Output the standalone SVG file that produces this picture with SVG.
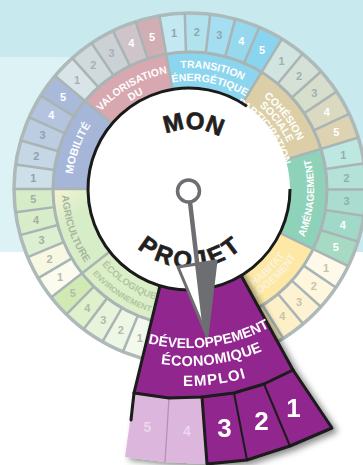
<svg xmlns="http://www.w3.org/2000/svg" width="363" height="465" viewBox="0 0 363 465">
<defs>
<style>
.b{fill:none;stroke-width:77}
.c{fill:none;stroke-width:39}
.sep{stroke:#a9b4b4;stroke-width:2.5}
.n{font-family:"Liberation Sans",Arial,sans-serif;font-weight:bold;font-size:11px;text-anchor:middle;dominant-baseline:central}
.w{fill:#fff}
.l{font-family:"Liberation Sans",Arial,sans-serif;font-weight:bold;font-size:10.5px;fill:#fff;text-anchor:middle}
.big{font-family:"Liberation Sans",Arial,sans-serif;font-weight:bold;fill:#231f20;stroke:#231f20;stroke-width:0.7;text-anchor:middle}
.pt{font-family:"Liberation Sans",Arial,sans-serif;font-weight:bold;fill:#fff;text-anchor:middle}
.blk{fill:none;stroke:#1a1a1a;stroke-linejoin:round;stroke-linecap:round}
</style>
<circle id="B" class="b" cx="190" cy="189" r="98.5" pathLength="360"/>
<circle id="C" class="c" cx="190" cy="189" r="156.5" pathLength="360"/>
<line id="ss" class="sep" x1="190" y1="89" x2="190" y2="13"/>
<line id="cs" class="sep" x1="190" y1="52" x2="190" y2="13"/>
<path id="t94" d="M123.53,122.53 A94,94 0 0 1 256.47,122.53"/>
<path id="t97" d="M121.41,120.41 A97,97 0 0 1 258.59,120.41"/>
<path id="t106" d="M115.05,114.05 A106,106 0 0 1 264.95,114.05"/>
<path id="t108" d="M113.63,112.63 A108,108 0 0 1 266.37,112.63"/>
<path id="t118" d="M106.56,105.56 A118,118 0 0 1 273.44,105.56"/>
<path id="t121" d="M104.44,103.44 A121,121 0 0 1 275.56,103.44"/>
<path id="b103" d="M117.17,261.83 A103,103 0 0 0 262.83,261.83"/>
<path id="b116" d="M107.98,271.02 A116,116 0 0 0 272.02,271.02"/>
<path id="b124" d="M102.32,276.68 A124,124 0 0 0 277.68,276.68"/>
<path id="b126" d="M100.90,278.10 A126,126 0 0 0 279.10,278.10"/>
<path id="b128" d="M99.49,279.51 A128,128 0 0 0 280.51,279.51"/>
<path id="b129" d="M98.78,280.22 A129,129 0 0 0 281.22,280.22"/>
<path id="mon" d="M137.17,159.5 A61,61 0 0 1 242.83,159.5"/>
<path id="proj" d="M116.7,216.68 A78,78 0 0 0 263.3,216.68"/>
<path id="d171" d="M102.5,325.09 A171,171 0 0 0 273.5,325.09"/>
<path id="d189" d="M93.5,340.68 A189,189 0 0 0 282.5,340.68"/>
<path id="d209" d="M83.5,358.0 A209,209 0 0 0 292.5,358.0"/>
<linearGradient id="agr" gradientUnits="userSpaceOnUse" x1="0" y1="240" x2="0" y2="278">
<stop offset="0" stop-color="#d7edc8"/><stop offset="1" stop-color="#fbf4d6"/>
</linearGradient>
<filter id="sh" x="-20%" y="-20%" width="150%" height="150%">
<feDropShadow dx="4" dy="3" stdDeviation="3" flood-color="#000" flood-opacity="0.45"/>
</filter>
</defs>

<g id="background">
<rect width="363" height="465" fill="#fff"/>
<rect width="363" height="252" fill="#c8eaee"/>
<rect y="57" width="185" height="195" fill="#ddf2f5"/>
</g>

<g id="wheel">
<g id="s-valorisation">
<use href="#B" stroke="#d7a8b0" stroke-dasharray="40.3 400" transform="rotate(220 190 189)"/>
<use href="#C" stroke="#d8e4e7" stroke-dasharray="8.3 400" transform="rotate(220 190 189)"/>
<use href="#C" stroke="#d0dadd" stroke-dasharray="8.3 400" transform="rotate(228 190 189)"/>
<use href="#C" stroke="#cbd1d5" stroke-dasharray="8.3 400" transform="rotate(236 190 189)"/>
<use href="#C" stroke="#cfc4c9" stroke-dasharray="8.3 400" transform="rotate(244 190 189)"/>
<use href="#C" stroke="#d1adb4" stroke-dasharray="8.3 400" transform="rotate(252 190 189)"/>
</g>
<g id="s-transition-energetique">
<use href="#B" stroke="#8bd5ee" stroke-dasharray="41.8 400" transform="rotate(260 190 189)"/>
<use href="#C" stroke="#c3e8f1" stroke-dasharray="8.6 400" transform="rotate(260 190 189)"/>
<use href="#C" stroke="#b1e3ef" stroke-dasharray="8.6 400" transform="rotate(268.3 190 189)"/>
<use href="#C" stroke="#a4def0" stroke-dasharray="8.6 400" transform="rotate(276.6 190 189)"/>
<use href="#C" stroke="#96d9ef" stroke-dasharray="8.6 400" transform="rotate(284.9 190 189)"/>
<use href="#C" stroke="#89d4ef" stroke-dasharray="8.6 400" transform="rotate(293.2 190 189)"/>
</g>
<g id="s-cohesion">
<use href="#B" stroke="#dccfa7" stroke-dasharray="41.8 400" transform="rotate(-58.5 190 189)"/>
<use href="#C" stroke="#d1e4df" stroke-dasharray="8.6 400" transform="rotate(-58.5 190 189)"/>
<use href="#C" stroke="#d5e1d6" stroke-dasharray="8.6 400" transform="rotate(-50.2 190 189)"/>
<use href="#C" stroke="#d8decc" stroke-dasharray="8.6 400" transform="rotate(-41.9 190 189)"/>
<use href="#C" stroke="#dbd9c0" stroke-dasharray="8.6 400" transform="rotate(-33.6 190 189)"/>
<use href="#C" stroke="#ddd3b2" stroke-dasharray="8.6 400" transform="rotate(-25.3 190 189)"/>
</g>
<g id="s-amenagement">
<use href="#B" stroke="#8fd2ba" stroke-dasharray="43.3 400" transform="rotate(-17 190 189)"/>
<use href="#C" stroke="#bde7e1" stroke-dasharray="8.9 400" transform="rotate(-17 190 189)"/>
<use href="#C" stroke="#b4e2d9" stroke-dasharray="8.9 400" transform="rotate(-8.4 190 189)"/>
<use href="#C" stroke="#aaddd0" stroke-dasharray="8.9 400" transform="rotate(0.2 190 189)"/>
<use href="#C" stroke="#a1d9c8" stroke-dasharray="8.9 400" transform="rotate(8.8 190 189)"/>
<use href="#C" stroke="#a7dac3" stroke-dasharray="8.9 400" transform="rotate(17.4 190 189)"/>
</g>
<g id="s-habitat">
<use href="#B" stroke="#fde9a5" stroke-dasharray="40.3 400" transform="rotate(26 190 189)"/>
<use href="#C" stroke="#fefae9" stroke-dasharray="8.3 400" transform="rotate(26 190 189)"/>
<use href="#C" stroke="#fef7de" stroke-dasharray="8.3 400" transform="rotate(34 190 189)"/>
<use href="#C" stroke="#fdf3d2" stroke-dasharray="8.3 400" transform="rotate(42 190 189)"/>
<use href="#C" stroke="#fdf0c6" stroke-dasharray="8.3 400" transform="rotate(50 190 189)"/>
<use href="#C" stroke="#fdecb9" stroke-dasharray="8.3 400" transform="rotate(58 190 189)"/>
</g>
<g id="s-ecologique">
<use href="#B" stroke="#dbeec7" stroke-dasharray="37.3 400" transform="rotate(105 190 189)"/>
<use href="#C" stroke="#f3f9ec" stroke-dasharray="7.7 400" transform="rotate(105 190 189)"/>
<use href="#C" stroke="#eef7e5" stroke-dasharray="7.7 400" transform="rotate(112.4 190 189)"/>
<use href="#C" stroke="#e7f3da" stroke-dasharray="7.7 400" transform="rotate(119.8 190 189)"/>
<use href="#C" stroke="#dff0cc" stroke-dasharray="7.7 400" transform="rotate(127.2 190 189)"/>
<use href="#C" stroke="#d1eab4" stroke-dasharray="7.7 400" transform="rotate(134.6 190 189)"/>
</g>
<g id="s-agriculture">
<use href="#B" stroke="url(#agr)" stroke-dasharray="38.3 400" transform="rotate(142 190 189)"/>
<use href="#C" stroke="#fbfbef" stroke-dasharray="7.9 400" transform="rotate(142 190 189)"/>
<use href="#C" stroke="#f7f8e2" stroke-dasharray="7.9 400" transform="rotate(149.6 190 189)"/>
<use href="#C" stroke="#dcefd1" stroke-dasharray="7.9 400" transform="rotate(157.2 190 189)"/>
<use href="#C" stroke="#d7edca" stroke-dasharray="7.9 400" transform="rotate(164.8 190 189)"/>
<use href="#C" stroke="#d6ecc8" stroke-dasharray="7.9 400" transform="rotate(172.4 190 189)"/>
</g>
<g id="s-mobilite">
<use href="#B" stroke="#a5b6d9" stroke-dasharray="40.3 400" transform="rotate(180 190 189)"/>
<use href="#C" stroke="#cde0e8" stroke-dasharray="8.3 400" transform="rotate(180 190 189)"/>
<use href="#C" stroke="#c5d6e4" stroke-dasharray="8.3 400" transform="rotate(188 190 189)"/>
<use href="#C" stroke="#bdcde1" stroke-dasharray="8.3 400" transform="rotate(196 190 189)"/>
<use href="#C" stroke="#b4c3de" stroke-dasharray="8.3 400" transform="rotate(204 190 189)"/>
<use href="#C" stroke="#a9b9da" stroke-dasharray="8.3 400" transform="rotate(212 190 189)"/>
</g>

<g id="wheel-lines">
<circle cx="190" cy="189" r="137" fill="none" stroke="#a9b4b4" stroke-width="3"/>
<circle cx="190" cy="189" r="176" fill="none" stroke="#aeb9b9" stroke-width="3.5"/>
<use href="#ss" transform="rotate(310 190 189)"/>
<use href="#ss" transform="rotate(350 190 189)"/>
<use href="#ss" transform="rotate(31.5 190 189)"/>
<use href="#ss" transform="rotate(73 190 189)"/>
<use href="#ss" transform="rotate(116 190 189)"/>
<use href="#ss" transform="rotate(232 190 189)"/>
<use href="#ss" transform="rotate(270 190 189)"/>
<use href="#cs" transform="rotate(318 190 189)"/><use href="#cs" transform="rotate(326 190 189)"/><use href="#cs" transform="rotate(334 190 189)"/><use href="#cs" transform="rotate(342 190 189)"/>
<use href="#cs" transform="rotate(358.3 190 189)"/><use href="#cs" transform="rotate(6.6 190 189)"/><use href="#cs" transform="rotate(14.9 190 189)"/><use href="#cs" transform="rotate(23.2 190 189)"/>
<use href="#cs" transform="rotate(39.8 190 189)"/><use href="#cs" transform="rotate(48.1 190 189)"/><use href="#cs" transform="rotate(56.4 190 189)"/><use href="#cs" transform="rotate(64.7 190 189)"/>
<use href="#cs" transform="rotate(81.6 190 189)"/><use href="#cs" transform="rotate(90.2 190 189)"/><use href="#cs" transform="rotate(98.8 190 189)"/><use href="#cs" transform="rotate(107.4 190 189)"/>
<use href="#cs" transform="rotate(124 190 189)"/><use href="#cs" transform="rotate(132 190 189)"/><use href="#cs" transform="rotate(140 190 189)"/><use href="#cs" transform="rotate(148 190 189)"/>
<use href="#cs" transform="rotate(202.4 190 189)"/><use href="#cs" transform="rotate(209.8 190 189)"/><use href="#cs" transform="rotate(217.2 190 189)"/><use href="#cs" transform="rotate(224.6 190 189)"/>
<use href="#cs" transform="rotate(239.6 190 189)"/><use href="#cs" transform="rotate(247.2 190 189)"/><use href="#cs" transform="rotate(254.8 190 189)"/><use href="#cs" transform="rotate(262.4 190 189)"/>
<use href="#cs" transform="rotate(278 190 189)"/><use href="#cs" transform="rotate(286 190 189)"/><use href="#cs" transform="rotate(294 190 189)"/><use href="#cs" transform="rotate(302 190 189)"/>
</g>

<g id="wheel-numbers" class="n">
<text x="77.1" y="79.9" fill="#a7b1b4">1</text><text x="93.3" y="65.3" fill="#a7b1b4">2</text><text x="111.5" y="53" fill="#a7b1b4">3</text><text x="131.2" y="43.4" class="w">4</text><text x="152" y="36.7" class="w">5</text>
<text x="174" y="32.8" fill="#8ca7b1">1</text><text x="196.7" y="32.1" fill="#8ca7b1">2</text><text x="219.3" y="34.8" fill="#8ca7b1">3</text><text x="241.2" y="40.6" class="w">4</text><text x="262.1" y="49.6" class="w">5</text>
<text x="281.5" y="61.4" fill="#9fb0b0">1</text><text x="299" y="76" fill="#9fb0b0">2</text><text x="314.2" y="92.9" fill="#9fb0b0">3</text><text x="326.7" y="111.8" class="w">4</text><text x="336.4" y="132.4" class="w">5</text>
<text x="343.2" y="154.5" fill="#8fb0aa">1</text><text x="346.6" y="177.8" fill="#8fb0aa">2</text><text x="346.5" y="201.3" fill="#8fb0aa">3</text><text x="342.9" y="224.6" class="w">4</text><text x="335.9" y="247" class="w">5</text>
<text x="326" y="267.5" fill="#c9c3aa">1</text><text x="313.7" y="285.7" fill="#c9c3aa">2</text><text x="299.1" y="301.9" fill="#c9c3aa">3</text><text x="282.3" y="316" fill="#c9c3aa">4</text>
<text x="139.7" y="337.7" fill="#b2baa9">1</text><text x="120.9" y="330" fill="#b2baa9">2</text><text x="103.3" y="319.9" fill="#b2baa9">3</text><text x="87.2" y="307.7" fill="#b2baa9">4</text><text x="72.8" y="293.4" fill="#b2baa9">5</text>
<text x="60.1" y="277.3" fill="#b8bcb0">1</text><text x="49.6" y="259.3" fill="#b4b9ad">2</text><text x="41.6" y="240.1" fill="#a4ad9f">3</text><text x="36.1" y="220" fill="#a4ad9f">4</text><text x="33.3" y="199.4" fill="#a4ad9f">5</text>
<text x="33.4" y="178" fill="#8fa0b3">1</text><text x="36.4" y="156.4" fill="#8fa0b3">2</text><text x="42.5" y="135.3" fill="#8fa0b3">3</text><text x="51.4" y="115.3" class="w">4</text><text x="63" y="96.7" class="w">5</text>
</g>

<g id="wheel-labels" class="l">
<text transform="rotate(330 190 189)"><textPath href="#t118" startOffset="50%">VALORISATION</textPath></text>
<text transform="rotate(330 190 189)"><textPath href="#t106" startOffset="50%">DU</textPath></text>
<text transform="rotate(330 190 189)"><textPath href="#t94" startOffset="50%">PATRIMOINE</textPath></text>
<text transform="rotate(10.75 190 189)"><textPath href="#t121" startOffset="50%">TRANSITION</textPath></text>
<text transform="rotate(10.75 190 189)"><textPath href="#t108" startOffset="50%">ÉNERGÉTIQUE</textPath></text>
<text transform="rotate(52.25 190 189)"><textPath href="#t118" startOffset="50%">COHÉSION</textPath></text>
<text transform="rotate(52.25 190 189)"><textPath href="#t108" startOffset="50%">SOCIALE</textPath></text>
<text transform="rotate(52.25 190 189)"><textPath href="#t97" startOffset="50%">PARTICIPATION</textPath></text>
<text transform="rotate(290 190 189)" font-size="11"><textPath href="#t118" startOffset="50%">MOBILITÉ</textPath></text>
<text transform="rotate(-85.5 190 189)" font-size="10"><textPath href="#b124" startOffset="50%">AMÉNAGEMENT</textPath></text>
<text transform="rotate(-44 190 189)" fill="#fbf3dc"><textPath href="#b116" startOffset="50%">HABITAT</textPath></text>
<text transform="rotate(-44 190 189)" fill="#fbf3dc"><textPath href="#b126" startOffset="50%">LOGEMENT</textPath></text>
<text transform="rotate(33.5 190 189)" fill="#afc69f" font-size="9.5"><textPath href="#b103" startOffset="50%">TRANSITION</textPath></text>
<text transform="rotate(33.5 190 189)" fill="#afc69f" font-size="9.5"><textPath href="#b116" startOffset="50%">ÉCOLOGIQUE</textPath></text>
<text transform="rotate(33.5 190 189)" fill="#afc69f" font-size="8"><textPath href="#b129" startOffset="50%">ENVIRONNEMENT</textPath></text>
<text transform="rotate(71 190 189)" fill="#a9b59f" font-size="10"><textPath href="#b128" startOffset="50%">AGRICULTURE</textPath></text>
</g>
</g>

<g id="n-developpement" filter="url(#sh)">
<path d="M174,228 L215,228 L293,370 L264,384 L234,393 L202,397 L169,398 L134,393 Z" fill="#92278f"/>
<path d="M293,370 L264,384 L290,446 L332,428 Z" fill="#92278f"/>
<path d="M264,384 L234,393 L247,460 L290,446 Z" fill="#92278f"/>
<path d="M234,393 L202,397 L207,464 L247,460 Z" fill="#92278f"/>
<path d="M202,397 L169,398 L165,462 L207,464 Z" fill="#dcb6dc"/>
<path d="M169,398 L134,393 L125,457 L165,462 Z" fill="#dcb6dc"/>
<line x1="169" y1="398" x2="165" y2="462" stroke="#b58fb5" stroke-width="1.2"/>
<path class="blk" stroke-width="3" d="M174,228 L134,393 M215,228 L293,370"/>
<path class="blk" stroke-width="3" d="M293,370 L264,384 L234,393 L202,397 L169,398 L134,393 L131,420"/>
<path class="blk" stroke-width="3" d="M202,397 L207,464 L247,460 L290,446 L332,428 L293,370"/>
<path class="blk" stroke-width="2" d="M234,393 L247,460 M264,384 L290,446"/>
<text class="pt" font-size="14" transform="rotate(-7.5 188 177)"><textPath href="#d171" startOffset="50%">DÉVELOPPEMENT</textPath></text>
<text class="pt" font-size="14.5" letter-spacing="0.3" transform="rotate(-7.5 188 177)"><textPath href="#d189" startOffset="50%">ÉCONOMIQUE</textPath></text>
<text class="pt" font-size="15" letter-spacing="1.2" transform="rotate(-7.5 188 177)"><textPath href="#d209" startOffset="50%">EMPLOI</textPath></text>
<g class="pt" font-size="26" dominant-baseline="central">
<text x="293.5" y="408">1</text>
<text x="261.5" y="420.5">2</text>
<text x="224.5" y="428">3</text>
</g>
<g class="pt" font-size="14" dominant-baseline="central">
<text x="187" y="431" fill="#ecd6ec">4</text>
<text x="147.5" y="427" fill="#ecd6ec">5</text>
</g>
</g>

<g id="n-center">
<circle cx="189" cy="189" r="101" fill="#fff"/>
<path d="M290,189 A101,101 0 1 1 246.9,106.3" fill="none" stroke="#1a1a1a" stroke-width="3"/>
<text class="big" font-size="24" transform="rotate(3 190 190)"><textPath href="#mon" startOffset="50%">MON</textPath></text>
<text class="big" font-size="24" letter-spacing="3.5" transform="rotate(-0.7 190 190)"><textPath href="#proj" startOffset="50%">PROJET</textPath></text>
</g>

<g id="needle">
<path d="M178,267 L216,261 L207,336 Z" fill="#fff" stroke="#6d6e71" stroke-width="3" stroke-linejoin="round"/>
<path d="M199,264 L216,261 L207,336 Z" fill="#6d6e71"/>
<line x1="190" y1="202" x2="205" y2="330" stroke="#6d6e71" stroke-width="4.5"/>
<circle cx="188.5" cy="191" r="11" fill="#fff" stroke="#6d6e71" stroke-width="3.5"/>
</g>
</svg>
